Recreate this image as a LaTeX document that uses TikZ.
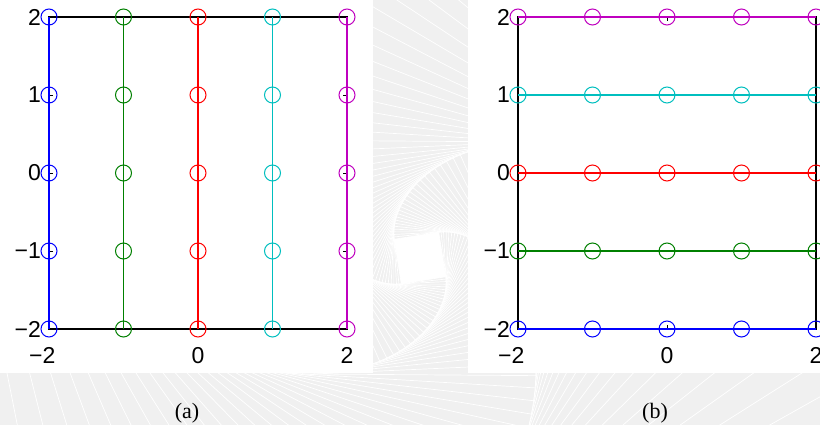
\documentclass[tikz,border=0pt]{standalone}
\usepackage{fontspec}
\newfontfamily\ticksf{Liberation Sans}
\newfontfamily\capserif{Liberation Serif}
\definecolor{mblue}{rgb}{0,0,1}
\definecolor{mgreen}{rgb}{0,0.5,0}
\definecolor{mred}{rgb}{1,0,0}
\definecolor{mcyan}{rgb}{0,0.75,0.75}
\definecolor{mmag}{rgb}{0.75,0,0.75}
\definecolor{bggray}{gray}{0.94}
\begin{document}
\begin{tikzpicture}[x=1pt,y=-1pt,
  bgline/.style={white, line width=0.7pt},
  axisline/.style={black, line width=1.3pt},
  tickline/.style={black, line width=0.8pt},
  dataline/.style={line width=1.2pt},
  marker/.style={circle, draw, line width=1pt, minimum size=16pt, inner sep=0pt},
  ticklab/.style={font=\ticksf\fontsize{23}{23}\selectfont, inner sep=0pt},
  caption/.style={font=\capserif\fontsize{22}{22}\selectfont, inner sep=0pt}]
\useasboundingbox (0,0) rectangle (820,425);
% background watermark pattern
\begin{scope}
  \clip (0,0) rectangle (820,425);
  \fill[bggray] (0,0) rectangle (820,425);
  \foreach \k in {0,...,66}{
    \pgfmathsetmacro\h{22.5*1.05118^\k}
    \pgfmathsetmacro\ang{9-3.013*\k}
    \draw[bgline, rotate around={\ang:(420,258)}] (420-\h,258-\h) rectangle (420+\h,258+\h);
  }
  \fill[white, rotate around={9:(420,258)}] (397.5,235.5) rectangle (442.5,280.5);
  \fill[white] (0,0) rectangle (373,373);
  \fill[white] (468,0) rectangle (820,373);
\end{scope}
% grid coordinates
\foreach \i in {0,...,4}{
  \foreach \j in {0,...,4}{
    \coordinate (a\i\j) at ({49+74.5*\i},{329-78*\j});
    \coordinate (b\i\j) at ({518+74.5*\i},{329-78*\j});
  }
}
% axes boxes
\draw[axisline] (a00) rectangle (a44);
\draw[axisline] (b00) rectangle (b44);
\foreach \p in {a,b}{
  \foreach \i in {0,2,4}{
    \draw[tickline] (\p\i0) -- ++(0,-4);
    \draw[tickline] (\p\i4) -- ++(0,4);
  }
  \foreach \j in {0,...,4}{
    \draw[tickline] (\p0\j) -- ++(4,0);
    \draw[tickline] (\p4\j) -- ++(-4,0);
  }
}
% plot (a): vertical lines
\foreach \i/\c in {0/mblue,1/mgreen,2/mred,3/mcyan,4/mmag}{
  \draw[dataline, \c] (a\i0) -- (a\i4);
  \foreach \j in {0,...,4}{
    \node[marker, draw=\c] (ma\i\j) at (a\i\j) {};
  }
}
% plot (b): horizontal lines
\foreach \j/\c in {0/mblue,1/mgreen,2/mred,3/mcyan,4/mmag}{
  \draw[dataline, \c] (b0\j) -- (b4\j);
  \foreach \i in {0,...,4}{
    \node[marker, draw=\c] (mb\i\j) at (b\i\j) {};
  }
}
% tick labels
\foreach \p in {a,b}{
  \foreach \j/\t in {0/\llap{−}2,1/\llap{−}1,2/0,3/1,4/2}{
    \node[ticklab, anchor=east, xshift=-8pt] (y\p\j) at (\p0\j) {\t};
  }
  \foreach \i/\t in {0/\llap{−}2,2/0,4/2}{
    \node[ticklab, anchor=north, yshift=-18pt] (x\p\i) at (\p\i0) {\t};
  }
}
% captions
\node[caption] (capa) at (187,413) {(a)};
\node[caption] (capb) at (655,413) {(b)};
\end{tikzpicture}
\end{document}
